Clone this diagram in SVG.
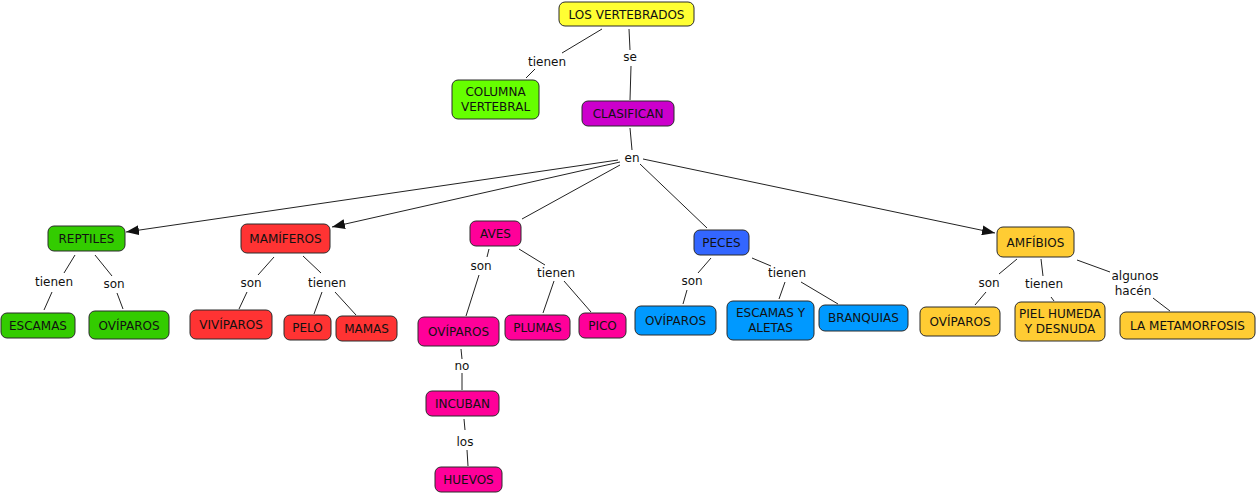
<svg xmlns="http://www.w3.org/2000/svg" width="1257" height="495" viewBox="0 0 1257 495">
<style>
.n rect{stroke:#2a2a2a;stroke-width:1}
.n text{font-family:"DejaVu Sans",Verdana,sans-serif;font-size:12px;fill:#111;text-anchor:middle}
.c line{stroke:#222;stroke-width:1}
.c text{font-family:"DejaVu Sans",Verdana,sans-serif;font-size:12px;fill:#111;text-anchor:middle}
.y{fill:#ffff33}.lg{fill:#66ff00}.p{fill:#cc00cc}.g{fill:#33cc00}.r{fill:#ff3333}.m{fill:#ff0099}.b{fill:#3366ff}.lb{fill:#0099ff}.o{fill:#ffcc33}
</style>
<defs>
<marker id="ah" markerWidth="14" markerHeight="10" refX="13" refY="5" orient="auto" markerUnits="userSpaceOnUse">
<path d="M0,0 L13,5 L0,10 Z" fill="#111"/>
</marker>
</defs>
<rect width="1257" height="495" fill="#fff"/>
<g class="c">
<line x1="602" y1="29" x2="562" y2="53"/><text x="547" y="66">tienen</text><line x1="535" y1="69" x2="526" y2="78"/>
<line x1="629" y1="29" x2="630" y2="50"/><text x="630" y="61">se</text><line x1="631" y1="66" x2="630" y2="100"/>
<line x1="630" y1="128" x2="632" y2="150"/><text x="632" y="162">en</text>
<line x1="618" y1="160" x2="126" y2="232" marker-end="url(#ah)"/>
<line x1="620" y1="162" x2="332" y2="227" marker-end="url(#ah)"/>
<line x1="620" y1="165" x2="522" y2="219"/>
<line x1="640" y1="164" x2="707" y2="228"/>
<line x1="643" y1="159" x2="995" y2="233" marker-end="url(#ah)"/>
<line x1="75" y1="255" x2="64" y2="273"/><text x="54" y="286">tienen</text><line x1="52" y1="292" x2="44" y2="310"/>
<line x1="95" y1="255" x2="112" y2="276"/><text x="114" y="288">son</text><line x1="117" y1="293" x2="123" y2="309"/>
<line x1="274" y1="257" x2="258" y2="275"/><text x="251" y="287">son</text><line x1="247" y1="292" x2="239" y2="309"/>
<line x1="303" y1="256" x2="321" y2="273"/><text x="327" y="287">tienen</text><line x1="322" y1="292" x2="314" y2="314"/><line x1="335" y1="292" x2="356" y2="315"/>
<line x1="489" y1="249" x2="487" y2="257"/><text x="481" y="270">son</text><line x1="479" y1="275" x2="466" y2="316"/>
<line x1="519" y1="249" x2="545" y2="265"/><text x="556" y="277">tienen</text><line x1="554" y1="281" x2="543" y2="313"/><line x1="564" y1="281" x2="591" y2="312"/>
<line x1="461" y1="349" x2="462" y2="359"/><text x="462" y="370">no</text><line x1="462" y1="373" x2="462" y2="390"/>
<line x1="464" y1="419" x2="465" y2="430"/><text x="465" y="446">los</text><line x1="467" y1="450" x2="468" y2="466"/>
<line x1="711" y1="258" x2="698" y2="273"/><text x="692" y="285">son</text><line x1="687" y1="290" x2="683" y2="304"/>
<line x1="752" y1="258" x2="771" y2="266"/><text x="787" y="277">tienen</text><line x1="785" y1="282" x2="779" y2="299"/><line x1="801" y1="282" x2="838" y2="304"/>
<line x1="1017" y1="259" x2="999" y2="274"/><text x="989" y="287">son</text><line x1="986" y1="292" x2="975" y2="305"/>
<line x1="1041" y1="259" x2="1043" y2="276"/><text x="1044" y="288">tienen</text><line x1="1051" y1="297" x2="1054" y2="301"/>
<line x1="1077" y1="260" x2="1110" y2="272"/><text x="1135" y="280">algunos</text><text x="1133" y="295">hacén</text><line x1="1153" y1="298" x2="1170" y2="311"/>
</g>
<g id="n-vertebrados" class="n"><rect class="y" x="559" y="2" width="135" height="24" rx="6"/><text x="626.5" y="18.5">LOS VERTEBRADOS</text></g>
<g id="n-columna" class="n"><rect class="lg" x="452" y="80" width="87" height="39" rx="6"/><text x="495.5" y="96">COLUMNA</text><text x="495.5" y="111">VERTEBRAL</text></g>
<g id="n-clasifican" class="n"><rect class="p" x="582" y="101" width="92" height="25" rx="6"/><text x="628" y="118">CLASIFICAN</text></g>
<g id="n-reptiles" class="n"><rect class="g" x="48" y="226" width="77" height="25" rx="6"/><text x="86.5" y="243">REPTILES</text></g>
<g id="n-mamiferos" class="n"><rect class="r" x="241" y="224" width="89" height="29" rx="6"/><text x="285.5" y="243">MAMÍFEROS</text></g>
<g id="n-aves" class="n"><rect class="m" x="470" y="221" width="51" height="25" rx="6"/><text x="495.5" y="238">AVES</text></g>
<g id="n-peces" class="n"><rect class="b" x="694" y="230" width="55" height="25" rx="6"/><text x="721.5" y="247">PECES</text></g>
<g id="n-amfibios" class="n"><rect class="o" x="997" y="227" width="77" height="30" rx="6"/><text x="1035.5" y="247">AMFÍBIOS</text></g>
<g id="n-escamas" class="n"><rect class="g" x="1" y="313" width="74" height="25" rx="6"/><text x="38" y="330">ESCAMAS</text></g>
<g id="n-oviparos-rep" class="n"><rect class="g" x="89" y="311" width="80" height="28" rx="6"/><text x="129" y="330">OVÍPAROS</text></g>
<g id="n-viviparos" class="n"><rect class="r" x="190" y="310" width="82" height="29" rx="6"/><text x="231" y="329">VIVÍPAROS</text></g>
<g id="n-pelo" class="n"><rect class="r" x="284" y="315" width="47" height="25" rx="6"/><text x="307.5" y="332">PELO</text></g>
<g id="n-mamas" class="n"><rect class="r" x="336" y="316" width="61" height="25" rx="6"/><text x="366.5" y="333">MAMAS</text></g>
<g id="n-oviparos-ave" class="n"><rect class="m" x="418" y="317" width="81" height="29" rx="6"/><text x="458.5" y="336">OVÍPAROS</text></g>
<g id="n-plumas" class="n"><rect class="m" x="505" y="315" width="65" height="25" rx="6"/><text x="537.5" y="332">PLUMAS</text></g>
<g id="n-pico" class="n"><rect class="m" x="579" y="313" width="47" height="25" rx="6"/><text x="602.5" y="330">PICO</text></g>
<g id="n-incuban" class="n"><rect class="m" x="426" y="391" width="73" height="25" rx="6"/><text x="462.5" y="408">INCUBAN</text></g>
<g id="n-huevos" class="n"><rect class="m" x="435" y="467" width="67" height="25" rx="6"/><text x="468.5" y="484">HUEVOS</text></g>
<g id="n-oviparos-pez" class="n"><rect class="lb" x="635" y="306" width="81" height="29" rx="6"/><text x="675.5" y="325">OVÍPAROS</text></g>
<g id="n-escamas-aletas" class="n"><rect class="lb" x="727" y="301" width="87" height="39" rx="6"/><text x="770.5" y="317">ESCAMAS Y</text><text x="770.5" y="332">ALETAS</text></g>
<g id="n-branquias" class="n"><rect class="lb" x="819" y="305" width="89" height="26" rx="6"/><text x="863.5" y="322">BRANQUIAS</text></g>
<g id="n-oviparos-amf" class="n"><rect class="o" x="920" y="307" width="80" height="29" rx="6"/><text x="960" y="326">OVÍPAROS</text></g>
<g id="n-piel" class="n"><rect class="o" x="1015" y="302" width="90" height="39" rx="6"/><text x="1060" y="318">PIEL HUMEDA</text><text x="1060" y="333">Y DESNUDA</text></g>
<g id="n-metamorfosis" class="n"><rect class="o" x="1120" y="312" width="135" height="27" rx="6"/><text x="1187.5" y="330">LA METAMORFOSIS</text></g>
</svg>
